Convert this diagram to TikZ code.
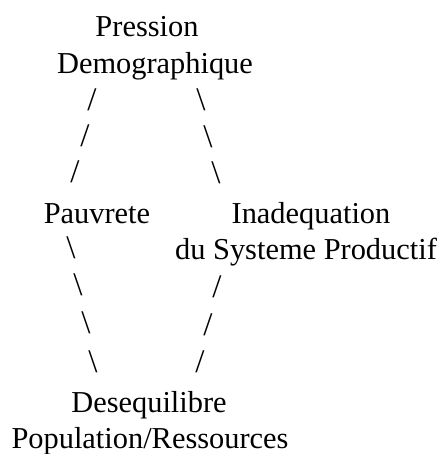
\documentclass[tikz,border=0pt]{standalone}
\usepackage{fontspec}
\setmainfont{Liberation Serif}
\begin{document}
\begin{tikzpicture}[x=0.5pt,y=-0.5pt,
  lbl/.style={inner sep=0pt, anchor=base, font=\fontsize{15.2}{18}\selectfont},
  sl/.style={inner sep=0pt, anchor=center, font=\fontsize{16.5}{18}\selectfont}]
\useasboundingbox[fill=white] (0,0) rectangle (440,454);
% concepts
\node[lbl] (pd1) at (147,37) {Pression};
\node[lbl] (pd2) at (155,74) {Demographique};
\node[lbl] (pv)  at (97,223) {Pauvrete};
\node[lbl] (in1) at (311,223) {Inadequation};
\node[lbl] (in2) at (306,259) {du Systeme Productif};
\node[lbl] (de1) at (149,412) {Desequilibre};
\node[lbl] (de2) at (150,448) {Population/Ressources};
% text connectors (slash characters)
\node[sl] (a1) at (92,100) {/};
\node[sl] (a2) at (85,136) {/};
\node[sl] (a3) at (75,172) {/};
\node[sl] (b1) at (201,100) {\textbackslash};
\node[sl] (b2) at (208,137) {\textbackslash};
\node[sl] (b3) at (216,173) {\textbackslash};
\node[sl] (c1) at (71,248)  {\textbackslash};
\node[sl] (c2) at (78,285)  {\textbackslash};
\node[sl] (c3) at (86,323)  {\textbackslash};
\node[sl] (c4) at (93,362)  {\textbackslash};
\node[sl] (d1) at (217,287) {/};
\node[sl] (d2) at (208,325) {/};
\node[sl] (d3) at (200,362) {/};
\end{tikzpicture}
\end{document}
